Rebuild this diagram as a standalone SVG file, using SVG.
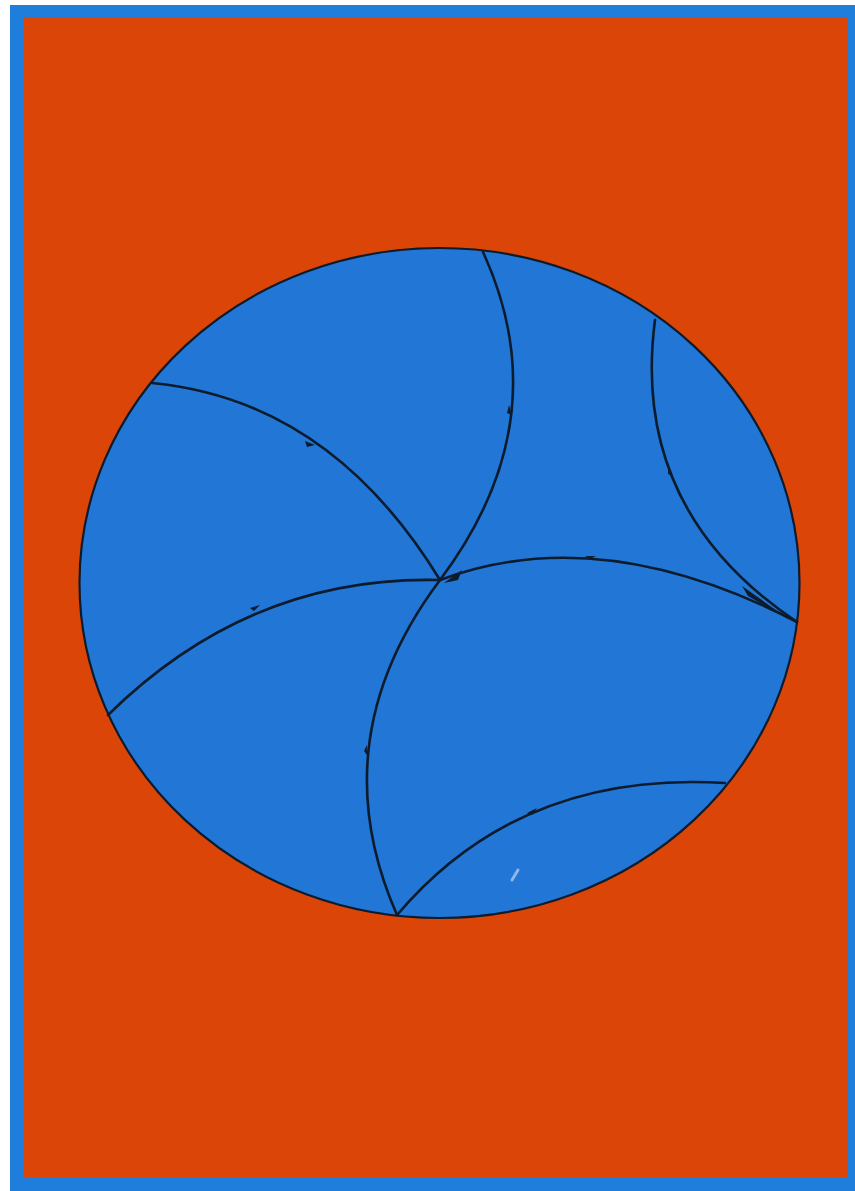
<svg xmlns="http://www.w3.org/2000/svg" width="855" height="1191" viewBox="0 0 855 1191">
<style>
.geo{fill:none;stroke:#0c1c2c;stroke-width:2.6;stroke-linecap:round}
.tick{fill:#0c1c2c}
</style>
<rect x="0" y="0" width="855" height="1191" fill="#ffffff"/>
<rect x="10" y="5" width="845" height="1186" fill="#1f7ddc"/>
<rect x="23" y="17" width="825" height="1161" fill="#db4507"/>
<ellipse cx="439.5" cy="583" rx="360" ry="335" fill="#2176d6" stroke="#0c1c2c" stroke-width="2.2"/>
<g id="geodesics">
<path class="geo" d="M483,252 Q560,420 440,580"/>
<path class="geo" d="M152,383 Q330,400 440,580"/>
<path class="geo" d="M108,715 Q250,575 440,580"/>
<path class="geo" d="M440,580 Q600,520 797,622"/>
<path class="geo" d="M655,320 Q630,510 797,622"/>
<path class="geo" d="M440,580 Q320,740 397,915"/>
<path class="geo" d="M397,915 Q520,770 725,783"/>
</g>
<g id="arrows">
<polygon class="tick" points="444,583 462,570 458,580"/>
<polygon class="tick" points="742,586 790,620 748,596"/>
<polygon class="tick" points="305,441 315,445 307,447"/>
<polygon class="tick" points="250,608 260,605 254,611"/>
<polygon class="tick" points="585,556 596,556 590,559"/>
<polygon class="tick" points="509,405 512,415 507,413"/>
<polygon class="tick" points="668,466 673,476 668,474"/>
<polygon class="tick" points="367,745 367,755 364,751"/>
<polygon class="tick" points="527,813 537,808 532,815"/>
</g>
<path d="M512,880 L518,870" stroke="#8fb8e8" stroke-width="3" stroke-linecap="round"/>
</svg>
